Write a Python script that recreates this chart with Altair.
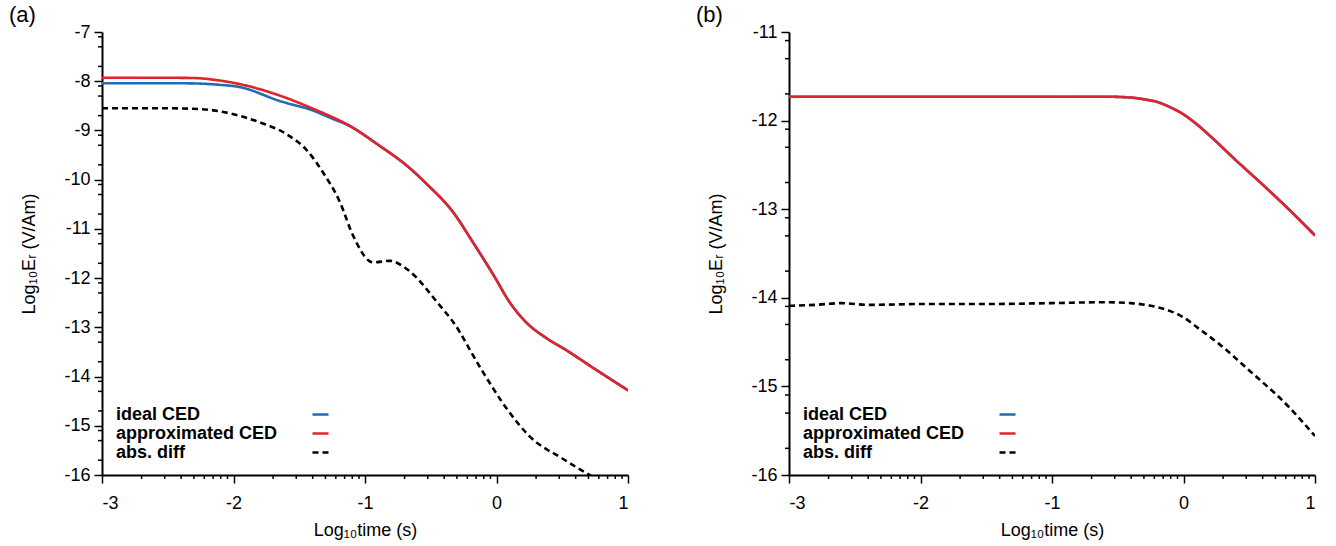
import altair as alt
import pandas as pd
import numpy as np

FONT = "Liberation Sans"
SERIES = ["ideal CED", "approximated CED", "abs. diff"]
COLORS = ["#1f6db4", "#e3232b", "#000000"]
DASHES = [[1, 0], [1, 0], [6, 4]]

# ---- panel (a) ----
a_ideal_x = [-3, -2.5, -2.3, -2.12, -1.95, -1.65, -1.39, -1.24, -1.14, -0.89, -0.68, -0.53, -0.33, -0.18, -0.02, 0.1, 0.23, 0.38, 0.54, 0.75, 1.0]
a_ideal_y = [-8.04, -8.04, -8.045, -8.07, -8.12, -8.40, -8.60, -8.77, -8.88, -9.31, -9.72, -10.09, -10.66, -11.27, -11.95, -12.49, -12.91, -13.22, -13.48, -13.85, -14.28]
a_approx_x = [-3, -2.5, -2.3, -2.12, -1.95, -1.65, -1.39, -1.24, -1.14, -0.89, -0.68, -0.53, -0.33, -0.18, -0.02, 0.1, 0.23, 0.38, 0.54, 0.75, 1.0]
a_approx_y = [-7.93, -7.93, -7.935, -7.98, -8.06, -8.29, -8.565, -8.74, -8.87, -9.31, -9.72, -10.09, -10.66, -11.27, -11.95, -12.49, -12.91, -13.22, -13.48, -13.85, -14.28]
a_diff_x = [-3, -2.5, -2.26, -2.0, -1.8, -1.6, -1.44, -1.32, -1.19, -1.09, -0.94, -0.81, -0.68, -0.43, -0.33, -0.13, 0.08, 0.25, 0.51, 0.72]
a_diff_y = [-8.55, -8.55, -8.565, -8.67, -8.835, -9.07, -9.41, -9.85, -10.46, -11.14, -11.68, -11.65, -11.82, -12.56, -12.89, -13.79, -14.66, -15.21, -15.68, -16.02]

# ---- panel (b) ----
b_ideal_x = [-3, -2, -1, -0.6, -0.4, -0.3, -0.2, -0.1, 0.0, 0.1, 0.2, 0.4, 0.6, 0.8, 1.0]
b_ideal_y = [-11.73, -11.73, -11.73, -11.73, -11.74, -11.76, -11.79, -11.85, -11.93, -12.04, -12.17, -12.45, -12.72, -13.0, -13.29]
b_approx_x = [-3, -2, -1, -0.6, -0.4, -0.3, -0.2, -0.1, 0.0, 0.1, 0.2, 0.4, 0.6, 0.8, 1.0]
b_approx_y = [-11.73, -11.73, -11.73, -11.73, -11.74, -11.76, -11.79, -11.85, -11.93, -12.04, -12.17, -12.45, -12.72, -13.0, -13.3]
b_diff_x = [-3, -2.8, -2.6, -2.4, -2.0, -1.5, -1.0, -0.6, -0.4, -0.25, -0.1, 0.0, 0.1, 0.27, 0.5, 0.8, 1.0]
b_diff_y = [-14.09, -14.08, -14.06, -14.08, -14.07, -14.07, -14.06, -14.05, -14.06, -14.09, -14.15, -14.22, -14.33, -14.52, -14.82, -15.23, -15.56]

x_major = [-3, -2, -1, 0, 1]
a_y_major = list(range(-16, -6))
b_y_major = list(range(-16, -10))

W, H = 526, 443


def minor_x():
    vals = []
    for d in range(-3, 1):
        for k in range(2, 10):
            vals.append(d + np.log10(k))
    return vals


def minor_y(lo, hi):
    vals = []
    for d in range(lo, hi):
        for k in (2, 5, 8):
            vals.append(d + np.log10(k))
    return vals


def make_df(xs, ys):
    rows = []
    for name, x, y in zip(SERIES, xs, ys):
        for xi, yi in zip(x, y):
            rows.append({"x": xi, "y": yi, "series": name})
    return pd.DataFrame(rows)


def panel(df, ydom, ymaj, label):
    xenc = lambda: alt.X("x:Q", scale=alt.Scale(domain=[-3, 1], nice=False, zero=False),
                         axis=alt.Axis(values=x_major, title="Log₁₀time (s)",
                                       labelExpr="'' + datum.value"))
    yenc = lambda: alt.Y("y:Q", scale=alt.Scale(domain=ydom, nice=False, zero=False),
                         axis=alt.Axis(values=ymaj, title="Log₁₀Eᵣ (V/Am)",
                                       labelExpr="'' + datum.value"))
    lines = alt.Chart(df).mark_line(strokeWidth=2.6, clip=True, interpolate="monotone").encode(
        x=xenc(), y=yenc(),
        color=alt.Color("series:N", scale=alt.Scale(domain=SERIES, range=COLORS),
                        sort=SERIES,
                        legend=alt.Legend(orient="none", legendX=209, legendY=373, title=None,
                                          labelFont=FONT, labelFontSize=18, labelFontWeight="bold",
                                          labelColor="black", symbolType="stroke", symbolSize=256,
                                          symbolStrokeWidth=2.5, labelOffset={"expr": "-214"},
                                          rowPadding=0, padding=0, labelLimit=0)),
        strokeDash=alt.StrokeDash("series:N", scale=alt.Scale(domain=SERIES, range=DASHES),
                                  sort=SERIES, legend=None),
        order=alt.Order("o:Q"),
    )
    ymin = pd.DataFrame({"y": minor_y(ydom[0], ydom[1])})
    xmin = pd.DataFrame({"x": minor_x()})
    yticks = alt.Chart(ymin).mark_rule(color="black", strokeWidth=1.5).encode(
        y=yenc(), x=alt.value(-4), x2=alt.value(0))
    xticks = alt.Chart(xmin).mark_rule(color="black", strokeWidth=1.5).encode(
        x=xenc(), y=alt.value(H), y2=alt.value(H + 4))
    return alt.layer(lines, yticks, xticks).properties(
        width=W, height=H,
        title=alt.TitleParams(label, anchor="start", frame="bounds", font=FONT, fontSize=22,
                              fontWeight="normal", dx=-12, offset=-4),
    )


dfa = make_df([a_ideal_x, a_approx_x, a_diff_x], [a_ideal_y, a_approx_y, a_diff_y])
dfb = make_df([b_ideal_x, b_approx_x, b_diff_x], [b_ideal_y, b_approx_y, b_diff_y])
for d in (dfa, dfb):
    d["o"] = range(len(d))

chart = alt.hconcat(
    panel(dfa, [-16, -7], a_y_major, "(a)"),
    panel(dfb, [-16, -11], b_y_major, "(b)"),
    spacing=66,
).resolve_scale(color="independent", strokeDash="independent").properties(
    padding={"left": 8, "top": 4, "right": 5, "bottom": 5}
).configure_view(stroke=None).configure_axis(
    grid=False, domainColor="black", domainWidth=2, tickColor="black", tickWidth=1.5,
    labelFont=FONT, labelFontSize=18, labelColor="black", titleFont=FONT, titleFontSize=18,
    titleFontWeight="normal", titleColor="black",
).configure_axisY(tickSize=8, labelPadding=4, titlePadding=25).configure_axisX(
    tickSize=8, labelPadding=11, titlePadding=9)

chart.save("out.html", embed_options={"renderer": "svg", "actions": False})
